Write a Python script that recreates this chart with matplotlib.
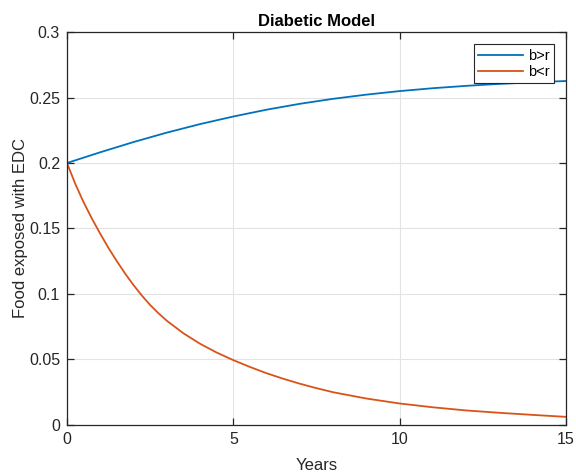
import matplotlib
matplotlib.use('Agg')
import matplotlib.pyplot as plt

# values
years_up = [0, 1, 2, 3, 4, 5, 6, 7, 8, 9, 10, 11, 12, 13, 14, 15]
b_gt_r = [0.2000, 0.2082, 0.2160, 0.2232, 0.2297, 0.2355, 0.2407, 0.2452, 0.2490,
          0.2522, 0.2549, 0.2571, 0.2589, 0.2604, 0.2616, 0.2626]

years_down = [0, 0.25, 0.5, 0.75, 1, 1.25, 1.5, 1.75, 2, 2.25, 2.5, 2.75, 3, 3.5,
              4, 4.5, 5, 5.5, 6, 6.5, 7, 7.5, 8, 9, 10, 11, 12, 13, 14, 15]
b_lt_r = [0.2000, 0.1840, 0.1700, 0.1575, 0.1460, 0.1350, 0.1250, 0.1155, 0.1068,
          0.0988, 0.0916, 0.0853, 0.0796, 0.0700, 0.0620, 0.0553, 0.0495, 0.0443,
          0.0395, 0.0353, 0.0315, 0.0281, 0.0250, 0.0202, 0.0164, 0.0135, 0.0111,
          0.0093, 0.0077, 0.0062]

xticks = [0, 5, 10, 15]
yticks = [0, 0.05, 0.1, 0.15, 0.2, 0.25, 0.3]
ytick_labels = ['0', '0.05', '0.1', '0.15', '0.2', '0.25', '0.3']


def main():
    plt.rcParams['font.family'] = ['Liberation Sans', 'DejaVu Sans']
    fig = plt.figure(figsize=(5.76, 4.75), dpi=100)
    ax = fig.add_axes([0.1163, 0.1053, 0.8663, 0.8273])

    ax.plot(years_up, b_gt_r, color='#0072BD', lw=1.3, label='b>r')
    ax.plot(years_down, b_lt_r, color='#D95319', lw=1.3, label='b<r')

    ax.set_xlim(0, 15)
    ax.set_ylim(0, 0.3)
    ax.set_xticks(xticks)
    ax.set_yticks(yticks)
    ax.set_yticklabels(ytick_labels)

    ax.grid(True, color='#e3e3e3', lw=0.8)
    ax.set_axisbelow(True)
    for s in ax.spines.values():
        s.set_color('#262626')
        s.set_linewidth(0.9)
    ax.tick_params(direction='in', top=True, right=True, length=5, width=0.9,
                   colors='#262626', labelsize=11.5, pad=5)

    ax.set_title('Diabetic Model', fontsize=12, fontweight='bold', pad=4)
    ax.set_xlabel('Years', fontsize=12, color='#262626', labelpad=8)
    ax.set_ylabel('Food exposed with EDC', fontsize=12, color='#262626', labelpad=0.5)

    leg = ax.legend(loc='upper right', fontsize=10.5, handlelength=3.1, fancybox=False,
                    framealpha=1, edgecolor='#262626', borderpad=0.3,
                    labelspacing=0.15, handletextpad=0.3, borderaxespad=0.85)
    leg.get_frame().set_linewidth(0.8)

    fig.savefig('out.png', dpi=100)


if __name__ == '__main__':
    main()
